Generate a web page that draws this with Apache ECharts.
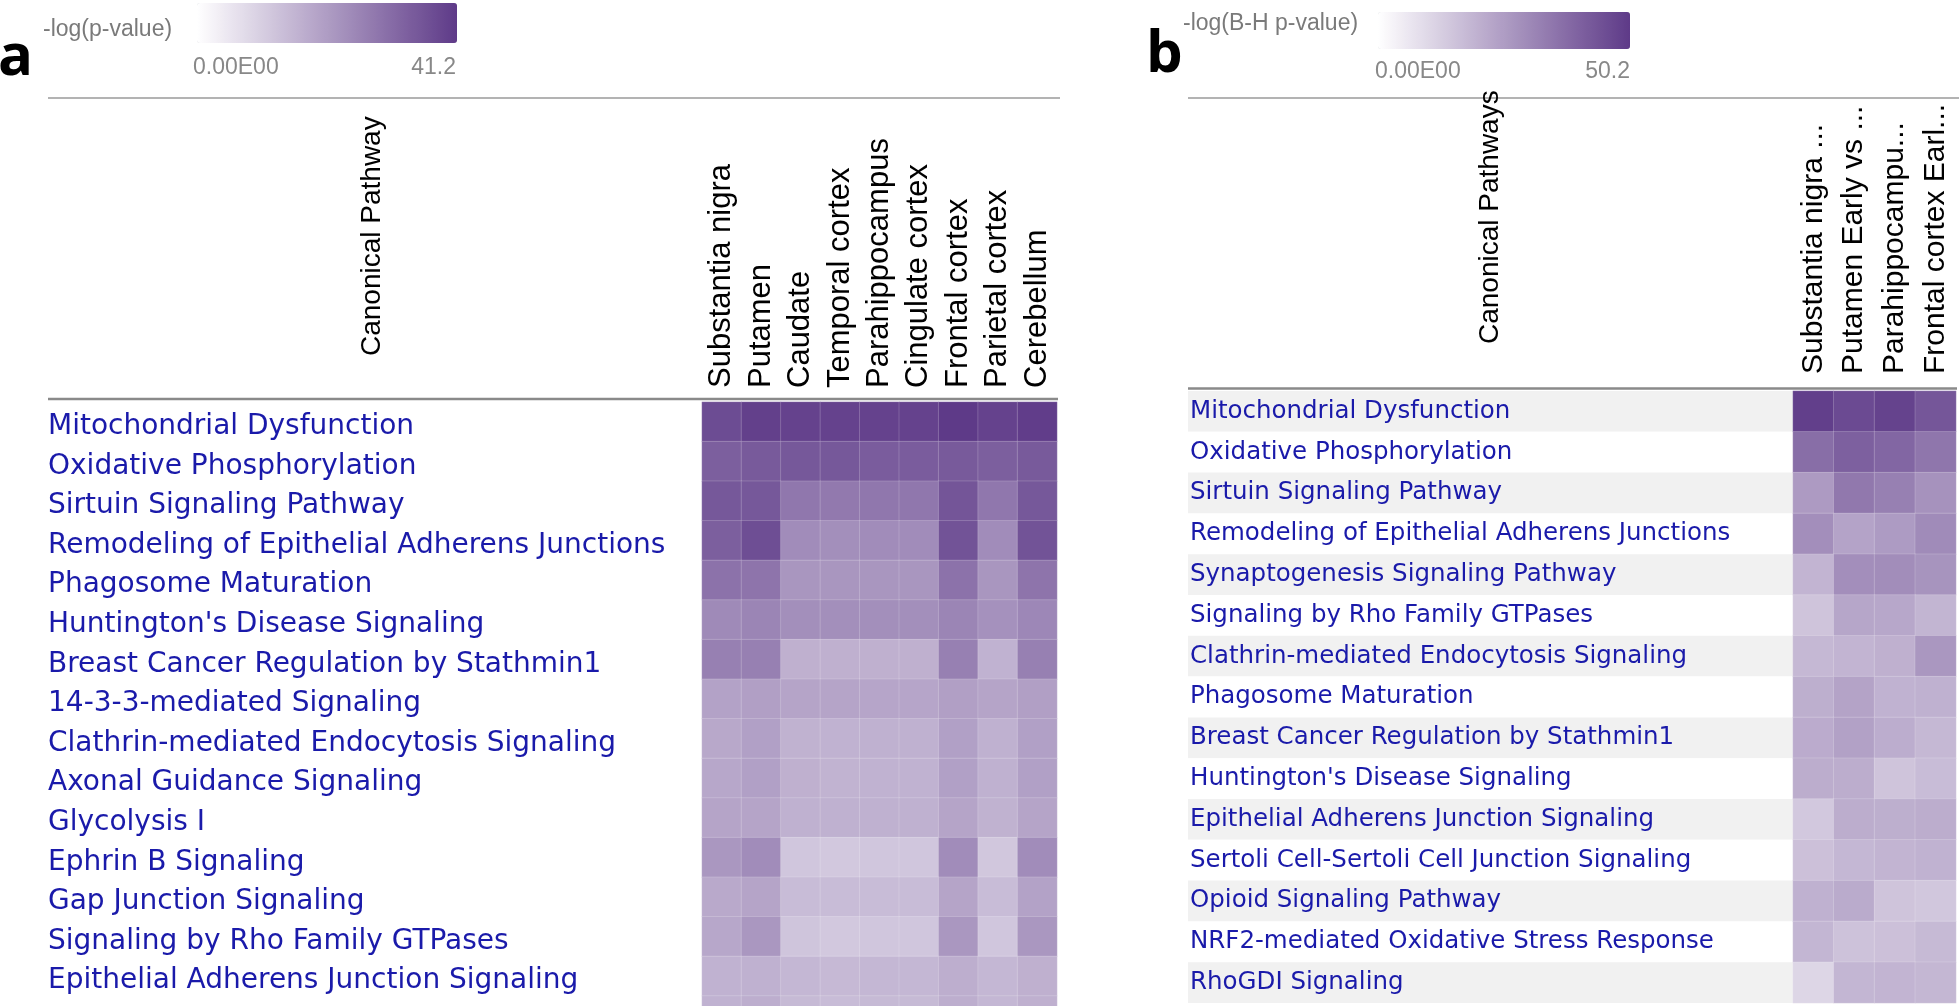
<!DOCTYPE html>
<html>
<head>
<meta charset="utf-8">
<script src="https://cdn.jsdelivr.net/npm/echarts@6/dist/echarts.min.js"></script>
<style>
html,body{margin:0;padding:0;background:#fff;}
#chart{width:1959px;height:1006px;}
</style>
</head>
<body>
<div id="chart"></div>
<script>
// ---------- data ----------
const regionsA = ['Substantia nigra','Putamen','Caudate','Temporal cortex','Parahippocampus','Cingulate cortex','Frontal cortex','Parietal cortex','Cerebellum'];
const pathwaysA = [
  'Mitochondrial Dysfunction',
  'Oxidative Phosphorylation',
  'Sirtuin Signaling Pathway',
  'Remodeling of Epithelial Adherens Junctions',
  'Phagosome Maturation',
  "Huntington's Disease Signaling",
  'Breast Cancer Regulation by Stathmin1',
  '14-3-3-mediated Signaling',
  'Clathrin-mediated Endocytosis Signaling',
  'Axonal Guidance Signaling',
  'Glycolysis I',
  'Ephrin B Signaling',
  'Gap Junction Signaling',
  'Signaling by Rho Family GTPases',
  'Epithelial Adherens Junction Signaling',
  'Synaptogenesis Signaling Pathway'
];
const valuesA = [
  [37.5, 40.0, 39.5, 39.5, 39.5, 39.5, 41.2, 39.5, 40.5],
  [33.5, 34.5, 35.0, 35.0, 34.0, 34.0, 34.5, 33.5, 34.5],
  [35.0, 35.0, 28.5, 28.0, 28.5, 28.5, 35.5, 28.5, 35.0],
  [33.5, 37.0, 24.0, 23.5, 24.0, 24.0, 36.0, 24.0, 36.0],
  [29.5, 29.0, 22.0, 22.0, 22.0, 22.0, 29.5, 22.0, 29.0],
  [24.5, 25.5, 23.5, 23.5, 23.5, 23.5, 25.5, 23.0, 25.0],
  [26.5, 26.5, 16.5, 16.5, 16.5, 16.5, 26.5, 16.0, 26.5],
  [19.5, 20.0, 19.0, 19.0, 18.8, 18.8, 20.0, 19.0, 20.0],
  [18.2, 19.9, 16.2, 16.0, 16.3, 16.3, 19.9, 16.3, 19.9],
  [18.5, 19.9, 16.5, 15.9, 16.0, 16.0, 19.9, 16.3, 19.9],
  [19.0, 19.0, 16.4, 16.4, 16.4, 16.4, 19.0, 16.2, 19.0],
  [21.8, 24.0, 11.9, 11.5, 11.9, 11.9, 24.0, 11.7, 24.0],
  [18.0, 19.0, 14.0, 14.0, 14.0, 14.0, 19.0, 14.0, 19.5],
  [18.5, 21.8, 12.2, 11.5, 11.9, 11.9, 21.8, 11.9, 21.8],
  [16.0, 16.4, 15.0, 14.6, 15.0, 15.0, 17.0, 15.0, 16.5],
  [16.0, 17.0, 14.5, 14.0, 14.5, 14.5, 17.0, 15.0, 16.5]
];
const maxA = 41.2;

const regionsB = ['Substantia nigra ...','Putamen Early vs ...','Parahippocampu...','Frontal cortex Earl...'];
const pathwaysB = [
  'Mitochondrial Dysfunction',
  'Oxidative Phosphorylation',
  'Sirtuin Signaling Pathway',
  'Remodeling of Epithelial Adherens Junctions',
  'Synaptogenesis Signaling Pathway',
  'Signaling by Rho Family GTPases',
  'Clathrin-mediated Endocytosis Signaling',
  'Phagosome Maturation',
  'Breast Cancer Regulation by Stathmin1',
  "Huntington's Disease Signaling",
  'Epithelial Adherens Junction Signaling',
  'Sertoli Cell-Sertoli Cell Junction Signaling',
  'Opioid Signaling Pathway',
  'NRF2-mediated Oxidative Stress Response',
  'RhoGDI Signaling'
];
const valuesB = [
  [49.0, 46.0, 48.0, 43.0],
  [37.0, 40.5, 39.0, 35.0],
  [25.7, 34.4, 32.4, 27.8],
  [28.8, 23.4, 25.5, 29.6],
  [19.1, 28.8, 29.0, 27.3],
  [15.0, 22.7, 22.5, 18.9],
  [18.2, 19.0, 20.1, 26.5],
  [20.5, 23.5, 19.5, 20.0],
  [21.3, 24.0, 20.8, 18.0],
  [21.0, 21.0, 15.0, 17.0],
  [14.0, 21.0, 20.5, 21.0],
  [16.0, 18.3, 19.0, 19.5],
  [20.0, 21.5, 15.0, 14.3],
  [18.7, 15.5, 16.0, 17.7],
  [10.5, 18.7, 19.0, 18.4]
];
const maxB = 50.2;

const legendTitleA = '-log(p-value)';
const legendTitleB = '-log(B-H p-value)';
const legendMinLabel = '0.00E00';
const headerA = 'Canonical Pathway';
const headerB = 'Canonical Pathways';

// ---------- build ----------
function toCells(vals) {
  const out = [];
  vals.forEach((row, r) => row.forEach((v, c) => out.push([c, r, v])));
  return out;
}
const rowFont = '"DejaVu Sans"';
const hdrFont = '"Liberation Sans", Arial, sans-serif';
const labelBlue = '#1a1aaa';
const purple = ['#ffffff', '#5e3a88'];
const rowHA = 39.6, rowHB = 40.8;

const chart = echarts.init(document.getElementById('chart'), null, {renderer: 'canvas'});

const hiddenAxis = {axisLine: {show: false}, axisTick: {show: false}, splitLine: {show: false}};

const option = {
  animation: false,
  backgroundColor: '#ffffff',
  grid: [
    {left: 702, top: 402, width: 355, height: rowHA * pathwaysA.length, outerBoundsMode: 'none', containLabel: false},
    {left: 1793, top: 391, width: 163, height: rowHB * pathwaysB.length, outerBoundsMode: 'none', containLabel: false},
    {left: 1188, top: 391, width: 605, height: rowHB * pathwaysB.length, outerBoundsMode: 'none', containLabel: false},
    {left: 48, top: 407, width: 654, height: rowHA * pathwaysA.length, outerBoundsMode: 'none', containLabel: false}
  ],
  xAxis: [
    Object.assign({gridIndex: 0, type: 'category', data: regionsA, position: 'top',
      axisLabel: {rotate: -90, interval: 0, margin: 14, fontFamily: hdrFont, fontSize: 31, color: '#000'}}, hiddenAxis),
    Object.assign({gridIndex: 1, type: 'category', data: regionsB, position: 'top',
      axisLabel: {rotate: -90, interval: 0, margin: 17, fontFamily: hdrFont, fontSize: 30, color: '#000'}}, hiddenAxis),
    {gridIndex: 2, type: 'value', show: false, min: 0, max: 1},
    {gridIndex: 3, type: 'value', show: false, min: 0, max: 1}
  ],
  yAxis: [
    Object.assign({gridIndex: 0, type: 'category', data: pathwaysA, inverse: true,
      axisLabel: {show: false}}, hiddenAxis),
    Object.assign({gridIndex: 1, type: 'category', data: pathwaysB, inverse: true,
      axisLabel: {show: false}}, hiddenAxis),
    {gridIndex: 2, type: 'category', data: pathwaysB, inverse: true,
      axisLine: {show: false}, axisTick: {show: false}, splitLine: {show: false},
      splitArea: {show: true, interval: 0, areaStyle: {color: ['#f1f1f1', '#ffffff']}},
      axisLabel: {interval: 0, inside: true, align: 'left', margin: 2, fontFamily: rowFont, fontSize: 24.5, color: labelBlue}},
    Object.assign({gridIndex: 3, type: 'category', data: pathwaysA, inverse: true,
      axisLabel: {interval: 0, inside: true, align: 'left', margin: 0, fontFamily: rowFont, fontSize: 28, color: labelBlue}}, hiddenAxis)
  ],
  visualMap: [
    {type: 'continuous', seriesIndex: 0, min: 0, max: maxA, orient: 'horizontal',
      left: 197, top: 3, itemWidth: 40, itemHeight: 260, padding: 0, calculable: false,
      hoverLink: false, text: null, inRange: {color: purple}},
    {type: 'continuous', seriesIndex: 1, min: 0, max: maxB, orient: 'horizontal',
      left: 1378, top: 12, itemWidth: 37, itemHeight: 252, padding: 0, calculable: false,
      hoverLink: false, text: null, inRange: {color: purple}}
  ],
  series: [
    {type: 'heatmap', xAxisIndex: 0, yAxisIndex: 0, data: toCells(valuesA),
      itemStyle: {borderColor: 'rgba(255,255,255,0.18)', borderWidth: 1}, emphasis: {disabled: true}},
    {type: 'heatmap', xAxisIndex: 1, yAxisIndex: 1, data: toCells(valuesB),
      itemStyle: {borderColor: 'rgba(255,255,255,0.18)', borderWidth: 1}, emphasis: {disabled: true}}
  ],
  graphic: [
    // panel letters
    {type: 'text', x: -2, y: 58, style: {text: 'a', font: 'bold 58px "Open Sans"', fill: '#000', align: 'left', verticalAlign: 'middle'}},
    {type: 'text', x: 1146, y: 55, style: {text: 'b', font: 'bold 58px "Open Sans"', fill: '#000', align: 'left', verticalAlign: 'middle'}},
    // legend texts
    {type: 'text', x: 43, y: 30, style: {text: legendTitleA, font: '23px "Liberation Sans"', fill: '#7a7a7a', align: 'left', verticalAlign: 'middle'}},
    {type: 'text', x: 193, y: 68, style: {text: legendMinLabel, font: '23px "Liberation Sans"', fill: '#888', align: 'left', verticalAlign: 'middle'}},
    {type: 'text', x: 456, y: 68, style: {text: String(maxA), font: '23px "Liberation Sans"', fill: '#888', align: 'right', verticalAlign: 'middle'}},
    {type: 'text', x: 1183, y: 24, style: {text: legendTitleB, font: '23px "Liberation Sans"', fill: '#7a7a7a', align: 'left', verticalAlign: 'middle'}},
    {type: 'text', x: 1375, y: 72, style: {text: legendMinLabel, font: '23px "Liberation Sans"', fill: '#888', align: 'left', verticalAlign: 'middle'}},
    {type: 'text', x: 1630, y: 72, style: {text: String(maxB), font: '23px "Liberation Sans"', fill: '#888', align: 'right', verticalAlign: 'middle'}},
    // separator lines
    {type: 'line', shape: {x1: 48, y1: 98, x2: 1060, y2: 98}, style: {stroke: '#9a9a9a', lineWidth: 1.5}},
    {type: 'line', shape: {x1: 1188, y1: 98, x2: 1959, y2: 98}, style: {stroke: '#9a9a9a', lineWidth: 1.5}},
    {type: 'line', shape: {x1: 48, y1: 399, x2: 1058, y2: 399}, style: {stroke: '#8a8a8a', lineWidth: 2.5}},
    {type: 'line', shape: {x1: 1188, y1: 388.5, x2: 1957, y2: 388.5}, style: {stroke: '#8a8a8a', lineWidth: 2.5}},
    // rotated row-header titles
    {type: 'text', x: 372, y: 356, rotation: Math.PI / 2, style: {text: headerA, font: '28px "Liberation Sans"', fill: '#000', align: 'left', verticalAlign: 'middle'}},
    {type: 'text', x: 1490, y: 344, rotation: Math.PI / 2, style: {text: headerB, font: '28px "Liberation Sans"', fill: '#000', align: 'left', verticalAlign: 'middle'}}
  ]
};
chart.setOption(option);
</script>
</body>
</html>
